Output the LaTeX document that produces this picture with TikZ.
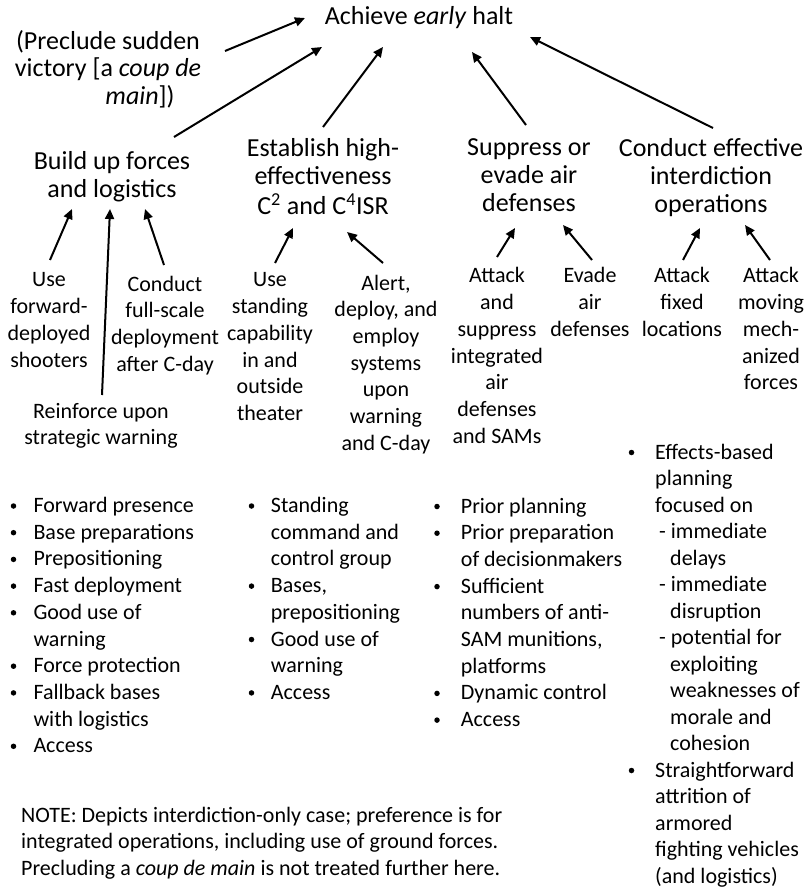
\documentclass[tikz,border=0pt]{standalone}
\usepackage{fontspec}
\setmainfont{Carlito}
\usetikzlibrary{arrows.meta}
% multi-line text blocks whose baseline is the first line
\newcommand\cstack[1]{\begin{tabular}[t]{@{}c@{}}#1\end{tabular}}
\newcommand\lstack[1]{\begin{tabular}[t]{@{}l@{}}#1\end{tabular}}
\begin{document}
\begin{tikzpicture}[x=1pt,y=-1pt,
  goal/.style={inner sep=0pt, anchor=base, font=\fontsize{26}{28}\selectfont},
  sub/.style={inner sep=0pt, anchor=base, font=\fontsize{22}{26.7}\selectfont},
  list/.style={inner sep=0pt, anchor=base west, font=\fontsize{22}{26.7}\selectfont},
  dot/.style={circle, fill=black, inner sep=0pt, minimum size=5.5pt},
  arr/.style={line width=2pt, -{Triangle[length=10pt,width=9pt]}},
]
\useasboundingbox (0,0) rectangle (809,890);

% top goal and the main lines of effort
\node[goal] (achieve) at (419,25) {Achieve \textit{early} halt};
\node[goal, font=\fontsize{26}{27}\selectfont] (preclude) at (108,50)
  {\cstack{(Preclude sudden\\victory [a \textit{coup de}\\\hspace*{64pt}\textit{main}])}};
\node[goal] (build) at (112,170) {\cstack{Build up forces\\and logistics}};
\node[goal] (establish) at (323,157)
  {\cstack{Establish high-\\effectiveness\\C\textsuperscript{2} and C\textsuperscript{4}ISR}};
\node[goal] (suppress) at (529,156) {\cstack{Suppress or\\evade air\\defenses}};
\node[goal] (conduct) at (711,157) {\cstack{Conduct effective\\interdiction\\operations}};

% supporting actions
\node[sub] (useforward) at (49,287) {\cstack{Use\\forward-\\deployed\\shooters}};
\node[sub] (conductfull) at (165,291) {\cstack{Conduct\\full-scale\\deployment\\after C-day}};
\node[sub] (reinforce) at (101,418) {\cstack{Reinforce upon\\strategic warning}};
\node[sub] (usestanding) at (270,287) {\cstack{Use\\standing\\capability\\in and\\outside\\theater}};
\node[sub] (alert) at (386,290) {\cstack{Alert,\\deploy, and\\employ\\systems\\upon\\warning\\and C-day}};
\node[sub] (attacksupp) at (497,283) {\cstack{Attack\\and\\suppress\\integrated\\air\\defenses\\and SAMs}};
\node[sub] (evade) at (590,283) {\cstack{Evade\\air\\defenses}};
\node[sub] (attackfixed) at (682,283) {\cstack{Attack\\fixed\\locations}};
\node[sub] (attackmoving) at (771,283) {\cstack{Attack\\moving\\mech-\\anized\\forces}};

% arrows into the top goal
\draw[arr] ([shift={(117,1)}]preclude.base) -- ([shift={(-114,-7)}]achieve.base);
\draw[arr] ([shift={(62,-33)}]build.base) -- ([shift={(-97,22)}]achieve.base);
\draw[arr] ([shift={(0,-30)}]establish.base) -- ([shift={(-36,22)}]achieve.base);
\draw[arr] ([shift={(-3,-31)}]suppress.base) -- ([shift={(53,27)}]achieve.base);
\draw[arr] ([shift={(2,-29)}]conduct.base) -- ([shift={(111,12)}]achieve.base);

% arrows into the lines of effort
\draw[arr] ([shift={(1,-27)}]useforward.base) -- ([shift={(-40,39)}]build.base);
\draw[arr] ([shift={(1,-23)}]reinforce.base) -- ([shift={(-2,39)}]build.base);
\draw[arr] ([shift={(-1,-26)}]conductfull.base) -- ([shift={(33,39)}]build.base);
\draw[arr] ([shift={(5,-24)}]usestanding.base) -- ([shift={(-30,71)}]establish.base);
\draw[arr] ([shift={(-3,-27)}]alert.base) -- ([shift={(24,75)}]establish.base);
\draw[arr] ([shift={(0,-26)}]attacksupp.base) -- ([shift={(-14,72)}]suppress.base);
\draw[arr] ([shift={(2,-23)}]evade.base) -- ([shift={(34,69)}]suppress.base);
\draw[arr] ([shift={(1,-23)}]attackfixed.base) -- ([shift={(-11,71)}]conduct.base);
\draw[arr] ([shift={(-1,-23)}]attackmoving.base) -- ([shift={(34,68)}]conduct.base);

% requirement lists, with round bullets set beside their lines
\node[list] (req1) at (33.3,512.5) {\lstack{Forward presence\\Base preparations\\Prepositioning\\Fast deployment\\Good use of\\warning\\Force protection\\Fallback bases\\with logistics\\Access}};
\foreach \r in {0,1,2,3,4,6,7,9} \node[dot] (b1-\r) at (13.5,506+26.7*\r) {};

\node[list] (req2) at (270.7,512.5) {\lstack{Standing\\command and\\control group\\Bases,\\prepositioning\\Good use of\\warning\\Access}};
\foreach \r in {0,3,5,7} \node[dot] (b2-\r) at (251.5,506+26.7*\r) {};

\node[list] (req3) at (460.7,513) {\lstack{Prior planning\\Prior preparation\\of decisionmakers\\Sufficient\\numbers of anti-\\SAM munitions,\\platforms\\Dynamic control\\Access}};
\foreach \r in {0,1,3,7,8} \node[dot] (b3-\r) at (437,506.5+26.7*\r) {};

\node[list, font=\fontsize{22}{26.5}\selectfont] (req4) at (655,459) {\lstack{Effects-based\\planning\\focused on\\\hspace*{4pt}- immediate\\\hspace*{15pt}delays\\\hspace*{4pt}- immediate\\\hspace*{15pt}disruption\\\hspace*{4pt}- potential for\\\hspace*{15pt}exploiting\\\hspace*{15pt}weaknesses of\\\hspace*{15pt}morale and\\\hspace*{15pt}cohesion\\Straightforward\\attrition of\\armored\\fighting vehicles\\(and logistics)}};
\foreach \r in {0,12} \node[dot] (b4-\r) at (631.5,452.5+26.5*\r) {};

% note
\node[list] (note) at (21,822) {\lstack{NOTE: Depicts interdiction-only case; preference is for\\integrated operations, including use of ground forces.\\Precluding a \textit{coup de main} is not treated further here.}};
\end{tikzpicture}
\end{document}
